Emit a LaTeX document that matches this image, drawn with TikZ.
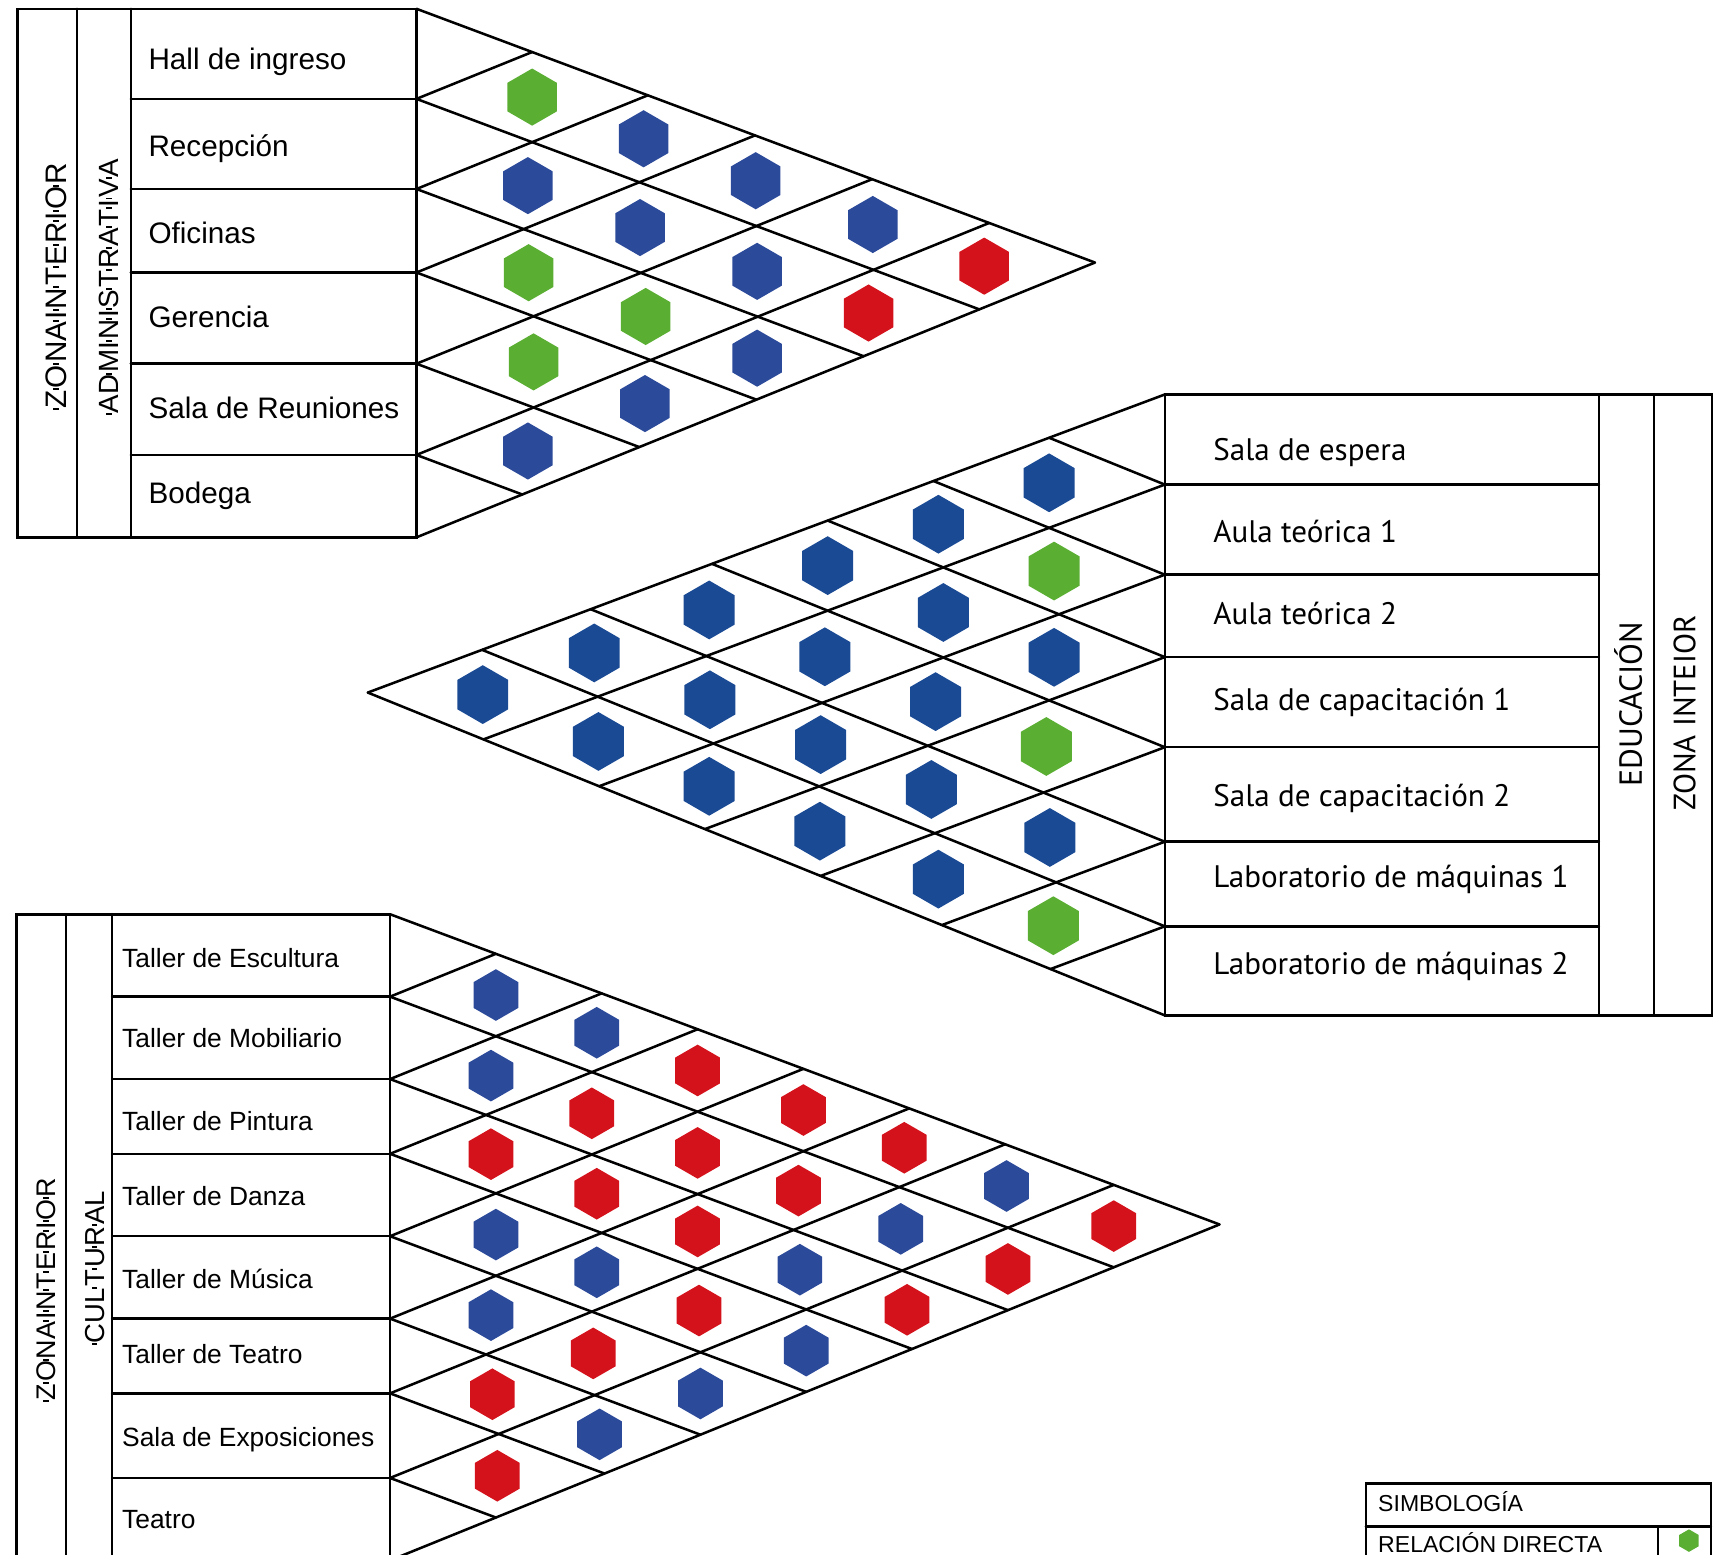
\documentclass[tikz,border=0pt]{standalone}
\usepackage{fontspec}
\setmainfont{Liberation Sans}
\newfontfamily\edufont{PT Sans}
\usetikzlibrary{shapes.geometric}
\definecolor{rVerde}{HTML}{5AAE32}
\definecolor{rAzul}{HTML}{2C4A9A}
\definecolor{rAzulEdu}{HTML}{1A4A94}
\definecolor{rRojo}{HTML}{D4121C}
% marca entre letras de los rotulos verticales
\newcommand{\tk}{\rule[0.26em]{0.07em}{0.2em}}
% pendientes de la rejilla
\def\pendT{0.374}
\def\pendB{0.405}
\def\pendS{0.779}
% centros de filas
\newcommand{\cAdm}[1]{\ifcase#1\or49\or131\or210\or289.5\or372.5\or451.5\fi}
\newcommand{\cEdu}[1]{\ifcase#1\or400\or482\or560.5\or639\or723\or804.5\or883.5\fi}
\newcommand{\cCul}[1]{\ifcase#1\or869.5\or944.5\or1016\or1087.5\or1162.5\or1234\or1306.5\or1382.5\fi}

\begin{document}
\begin{tikzpicture}[x=1pt, y=-1pt,
    linea/.style={line width=2.3pt, line cap=round},
    hexa/.style={regular polygon, regular polygon sides=6,
                 shape border rotate=30, inner sep=0pt, outer sep=0pt},
    etiq/.style={anchor=west, inner sep=0pt, text depth=0pt},
    etiqA/.style={etiq, font=\fontsize{27pt}{30pt}\selectfont, text height=19.3pt},
    etiqE/.style={etiq, font=\edufont\fontsize{28.3pt}{31pt}\selectfont, text height=19.8pt},
    etiqC/.style={etiq, font=\fontsize{24pt}{27pt}\selectfont, text height=17.2pt},
    vert/.style={rotate=90, inner sep=0pt, text depth=0pt},
  ]
\useasboundingbox (0,0) rectangle (1568,1415);
\clip (0,0) rectangle (1568,1415);

% ---------- zona administrativa ----------
\draw[linea] (16,8) rectangle (379,489);
\draw[linea] (70,8) -- (70,489) (119,8) -- (119,489);
\foreach \b in {90,172,248,331,414} \draw[linea] (119,\b) -- (379,\b);
\foreach \b in {8,90,172,248,331,414} {
  \pgfmathsetmacro\dx{(489-\b)/\pendS}
  \draw[linea] (379,\b) -- ++(\dx,\pendT*\dx);
}
\foreach \b in {90,172,248,331,414,489} {
  \pgfmathsetmacro\dx{(\b-8)/\pendS}
  \draw[linea] (379,\b) -- ++(\dx,-\pendB*\dx);
}
\node[vert, font=\fontsize{27pt}{30pt}\selectfont, text height=19.3pt] (zonaA) at (51,261)
  {\tk Z\tk O\tk NA\tk I\tk N\tk T\tk E\tk R\tk I\tk O\tk R};
\node[vert, font=\fontsize{25.3pt}{29pt}\selectfont, text height=18.1pt] (admin) at (99,261)
  {\tk AD\tk MI\tk N\tk I\tk S\tk T\tk R\tk A\tk T\tk I\tk V\tk A};
\node[etiqA] (hall) at (135,54) {Hall de ingreso};
\node[etiqA] (recep) at (135,133) {Recepción};
\node[etiqA] (ofic) at (135,212) {Oficinas};
\node[etiqA] (geren) at (135,288) {Gerencia};
\node[etiqA] (reun) at (135,371) {Sala de Reuniones};
\node[etiqA] (bodeg) at (135,449) {Bodega};
\foreach \i/\j/\col in {1/2/rVerde,1/3/rAzul,1/4/rAzul,1/5/rAzul,1/6/rRojo,
                        2/3/rAzul,2/4/rAzul,2/5/rAzul,2/6/rRojo,
                        3/4/rVerde,3/5/rVerde,3/6/rAzul,
                        4/5/rVerde,4/6/rAzul,
                        5/6/rAzul} {
  \pgfmathsetmacro\dx{(\cAdm{\j}-\cAdm{\i})/\pendS}
  \pgfmathsetmacro\yy{\cAdm{\i}+\pendT*\dx}
  \node[hexa, fill=\col, minimum size=52pt] (hA-\i-\j) at (379+\dx,\yy) {};
}

% ---------- educacion ----------
\draw[linea] (1060,359) rectangle (1558,924);
\draw[linea] (1455,359) -- (1455,924) (1505,359) -- (1505,924);
\foreach \b in {441,523,598,680,766,843} \draw[linea] (1060,\b) -- (1455,\b);
\foreach \b in {359,441,523,598,680,766,843} {
  \pgfmathsetmacro\dx{(924-\b)/\pendS}
  \draw[linea] (1060,\b) -- ++(-\dx,\pendT*\dx);
}
\foreach \b in {441,523,598,680,766,843,924} {
  \pgfmathsetmacro\dx{(\b-359)/\pendS}
  \draw[linea] (1060,\b) -- ++(-\dx,-\pendB*\dx);
}
\node[etiqE] (espera) at (1104,409) {Sala de espera};
\node[etiqE] (aula1) at (1104,484) {Aula teórica 1};
\node[etiqE] (aula2) at (1104,558) {Aula teórica 2};
\node[etiqE] (capac1) at (1104,637) {Sala de capacitación 1};
\node[etiqE] (capac2) at (1104,724) {Sala de capacitación 2};
\node[etiqE] (labo1) at (1104,798) {Laboratorio de máquinas 1};
\node[etiqE] (labo2) at (1104,877) {Laboratorio de máquinas 2};
\node[vert, font=\edufont\fontsize{29pt}{32pt}\selectfont, text height=20.3pt] (educ) at (1484,641) {EDUCACIÓN};
\node[vert, font=\edufont\fontsize{28pt}{31pt}\selectfont, text height=19.6pt] (zonaE) at (1533,649) {ZONA INTEIOR};
\foreach \i/\j/\col in {1/2/rAzulEdu,1/3/rAzulEdu,1/4/rAzulEdu,1/5/rAzulEdu,1/6/rAzulEdu,1/7/rAzulEdu,
                        2/3/rVerde,2/4/rAzulEdu,2/5/rAzulEdu,2/6/rAzulEdu,2/7/rAzulEdu,
                        3/4/rAzulEdu,3/5/rAzulEdu,3/6/rAzulEdu,3/7/rAzulEdu,
                        4/5/rVerde,4/6/rAzulEdu,4/7/rAzulEdu,
                        5/6/rAzulEdu,5/7/rAzulEdu,
                        6/7/rVerde} {
  \pgfmathsetmacro\dx{(\cEdu{\j}-\cEdu{\i})/\pendS}
  \pgfmathsetmacro\yy{\cEdu{\i}+\pendT*\dx}
  \node[hexa, fill=\col, minimum size=53.5pt] (hE-\i-\j) at (1060-\dx,\yy) {};
}

% ---------- zona cultural ----------
\draw[linea] (15,832) rectangle (355,1420);
\draw[linea] (60,832) -- (60,1420) (102,832) -- (102,1420);
\foreach \b in {907,982,1050,1125,1200,1268,1345} \draw[linea] (102,\b) -- (355,\b);
\foreach \b in {832,907,982,1050,1125,1200,1268,1345} {
  \pgfmathsetmacro\dx{(1420-\b)/\pendS}
  \draw[linea] (355,\b) -- ++(\dx,\pendT*\dx);
}
\foreach \b in {907,982,1050,1125,1200,1268,1345,1420} {
  \pgfmathsetmacro\dx{(\b-832)/\pendS}
  \draw[linea] (355,\b) -- ++(\dx,-\pendB*\dx);
}
\node[vert, font=\fontsize{24.5pt}{28pt}\selectfont, text height=17.5pt] (zonaC) at (42,1174)
  {\tk Z\tk O\tk NA\tk I\tk N\tk T\tk E\tk R\tk I\tk O\tk R};
\node[vert, font=\fontsize{25pt}{28pt}\selectfont, text height=17.9pt] (cultu) at (86,1154)
  {\tk CUL\tk T\tk U\tk R\tk AL};
\node[etiqC] (escul) at (111,872) {Taller de Escultura};
\node[etiqC] (mobil) at (111,945) {Taller de Mobiliario};
\node[etiqC] (pintu) at (111,1020) {Taller de Pintura};
\node[etiqC] (danza) at (111,1088) {Taller de Danza};
\node[etiqC] (music) at (111,1164) {Taller de Música};
\node[etiqC] (tteat) at (111,1232) {Taller de Teatro};
\node[etiqC] (expos) at (111,1308) {Sala de Exposiciones};
\node[etiqC] (teatr) at (111,1382) {Teatro};
\foreach \i/\j/\col in {1/2/rAzul,1/3/rAzul,1/4/rRojo,1/5/rRojo,1/6/rRojo,1/7/rAzul,1/8/rRojo,
                        2/3/rAzul,2/4/rRojo,2/5/rRojo,2/6/rRojo,2/7/rAzul,2/8/rRojo,
                        3/4/rRojo,3/5/rRojo,3/6/rRojo,3/7/rAzul,3/8/rRojo,
                        4/5/rAzul,4/6/rAzul,4/7/rRojo,4/8/rAzul,
                        5/6/rAzul,5/7/rRojo,5/8/rAzul,
                        6/7/rRojo,6/8/rAzul,
                        7/8/rRojo} {
  \pgfmathsetmacro\dx{(\cCul{\j}-\cCul{\i})/\pendS}
  \pgfmathsetmacro\yy{\cCul{\i}+\pendT*\dx}
  \node[hexa, fill=\col, minimum size=47pt] (hC-\i-\j) at (355+\dx,\yy) {};
}

% ---------- simbologia ----------
\draw[linea] (1243,1350) rectangle (1557,1440);
\draw[linea] (1243,1389) -- (1557,1389);
\draw[linea] (1509,1389) -- (1509,1440);
\node[etiq, font=\fontsize{21pt}{24pt}\selectfont, text height=15pt] (simbo) at (1254,1368) {SIMBOLOGÍA};
\node[etiq, font=\fontsize{21pt}{24pt}\selectfont, text height=15pt] (relac) at (1254,1405.5) {RELACIÓN DIRECTA};
\node[hexa, fill=rVerde, minimum size=20.5pt] (hLey) at (1537,1402) {};
\end{tikzpicture}
\end{document}
